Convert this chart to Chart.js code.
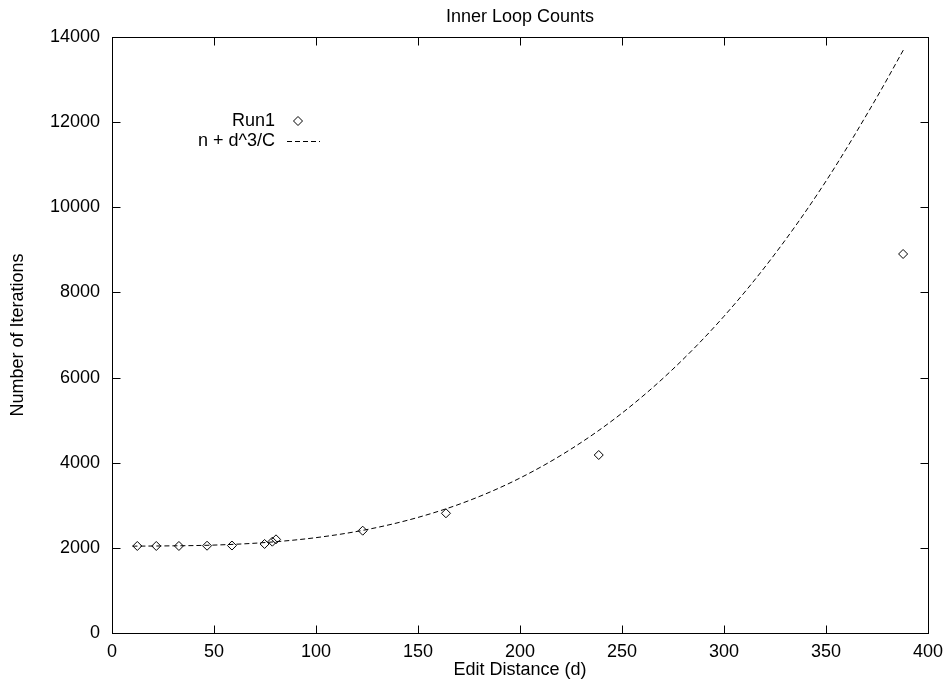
<!DOCTYPE html>
<html><head><meta charset="utf-8">
<script src="https://cdn.jsdelivr.net/npm/chart.js@4/dist/chart.umd.min.js"></script>
<style>html,body{margin:0;padding:0;background:#fff}</style>
</head><body>
<canvas id="c" width="951" height="687"></canvas>
<script>
// Data
const runLabel = 'Run1';
const runD = [12.4, 21.7, 32.8, 46.6, 58.8, 74.8, 78.6, 80.4, 122.9, 163.7, 238.6, 387.8];
const runIters = [2044, 2044, 2044, 2050, 2055, 2091, 2145, 2200, 2403, 2812, 4181, 8903];

const fitLabel = 'n + d^3/C';
const fitD = [10, 25, 50, 75, 100, 125, 150, 175, 200, 225, 250, 275, 300, 325, 350, 375, 388];
const fitIters = [2040, 2045, 2065, 2125, 2240, 2430, 2715, 3110, 3640, 4320, 5165, 6200, 7440, 8905, 10615, 12590, 13700];

const xTicks = [0, 50, 100, 150, 200, 250, 300, 350, 400];
const yTicks = [0, 2000, 4000, 6000, 8000, 10000, 12000, 14000];

const chartTitle = 'Inner Loop Counts';
const xTitle = 'Edit Distance (d)';
const yTitle = 'Number of Iterations';

const FONT = "'Liberation Sans', Arial, Helvetica, sans-serif";
const FS = 18;

const frame = {
  id: 'frame',
  afterDatasetsDraw(chart) {
    const {ctx, chartArea: a, scales: {x, y}} = chart;
    ctx.save();
    ctx.strokeStyle = '#000';
    ctx.lineWidth = 1;
    const L = Math.round(a.left) + 0.5, R = Math.round(a.right) + 0.5;
    const T = Math.round(a.top) + 0.5, B = Math.round(a.bottom) + 0.5;
    ctx.strokeRect(L, T, R - L, B - T);
    ctx.beginPath();
    x.ticks.forEach(t => {
      const p = Math.round(x.getPixelForValue(t.value)) + 0.5;
      ctx.moveTo(p, B); ctx.lineTo(p, B - 8);
      ctx.moveTo(p, T); ctx.lineTo(p, T + 8);
    });
    y.ticks.forEach(t => {
      const p = Math.round(y.getPixelForValue(t.value)) + 0.5;
      ctx.moveTo(L, p); ctx.lineTo(L + 8, p);
      ctx.moveTo(R, p); ctx.lineTo(R - 8, p);
    });
    ctx.stroke();
    ctx.restore();
  }
};

const keyBox = {
  id: 'keyBox',
  afterDraw(chart) {
    const {ctx} = chart;
    const ds = chart.data.datasets;
    ctx.save();
    ctx.font = FS + 'px ' + FONT;
    ctx.fillStyle = '#000';
    ctx.textAlign = 'right';
    ctx.textBaseline = 'middle';
    const tx = 275, y1 = 121, y2 = 141;
    ctx.fillText(ds[0].label, tx, y1);
    ctx.fillText(ds[1].label, tx, y2);
    ctx.strokeStyle = '#000';
    ctx.fillStyle = 'rgba(0,0,0,0)';
    ctx.lineWidth = 1;
    Chart.helpers.drawPoint(ctx, {pointStyle: 'rectRot', radius: 4.5, borderWidth: 1}, 298, y1);
    ctx.setLineDash([5, 3]);
    ctx.beginPath();
    ctx.moveTo(287, y2 + 0.5); ctx.lineTo(320, y2 + 0.5);
    ctx.stroke();
    ctx.restore();
  }
};

new Chart(document.getElementById('c'), {
  type: 'scatter',
  data: {
    datasets: [
      {
        label: runLabel,
        data: runD.map((d, i) => ({x: d, y: runIters[i]})),
        pointStyle: 'rectRot',
        pointRadius: 4.5,
        pointHoverRadius: 4.5,
        pointBorderWidth: 1,
        borderColor: '#000',
        backgroundColor: 'rgba(0,0,0,0)',
        showLine: false,
        order: 0
      },
      {
        label: fitLabel,
        data: fitD.map((d, i) => ({x: d, y: fitIters[i]})),
        showLine: true,
        borderColor: '#000',
        borderWidth: 1,
        borderDash: [5, 3],
        pointRadius: 0,
        pointHoverRadius: 0,
        cubicInterpolationMode: 'monotone',
        fill: false,
        order: 1
      }
    ]
  },
  options: {
    responsive: false,
    animation: false,
    events: [],
    layout: {padding: {top: 0, right: 21, bottom: 0, left: 0}},
    plugins: {
      legend: {display: false},
      tooltip: {enabled: false},
      title: {
        display: true,
        text: chartTitle,
        fullSize: false,
        color: '#000',
        font: {family: FONT, size: FS, weight: 'normal'},
        padding: {top: 6, bottom: 9.4}
      }
    },
    scales: {
      x: {
        type: 'linear',
        min: 0, max: 400,
        afterBuildTicks(s) { s.ticks = xTicks.map(v => ({value: v})); },
        afterFit(s) { s.height = 54; },
        grid: {display: false, drawTicks: false},
        border: {display: false},
        ticks: {color: '#000', font: {family: FONT, size: FS}, padding: 8, maxRotation: 0, autoSkip: false,
                callback: v => String(v)},
        title: {display: true, text: xTitle, color: '#000', font: {family: FONT, size: FS}, padding: {top: 0, bottom: 6}}
      },
      y: {
        type: 'linear',
        min: 0, max: 14000,
        afterBuildTicks(s) { s.ticks = yTicks.map(v => ({value: v})); },
        afterFit(s) { s.width = 112; },
        grid: {display: false, drawTicks: false},
        border: {display: false},
        ticks: {color: '#000', font: {family: FONT, size: FS}, padding: 12, autoSkip: false,
                callback: v => String(v)},
        title: {display: true, text: yTitle, color: '#000', font: {family: FONT, size: FS}, padding: {top: 7, bottom: 0}}
      }
    }
  },
  plugins: [frame, keyBox]
});
</script>
</body></html>
